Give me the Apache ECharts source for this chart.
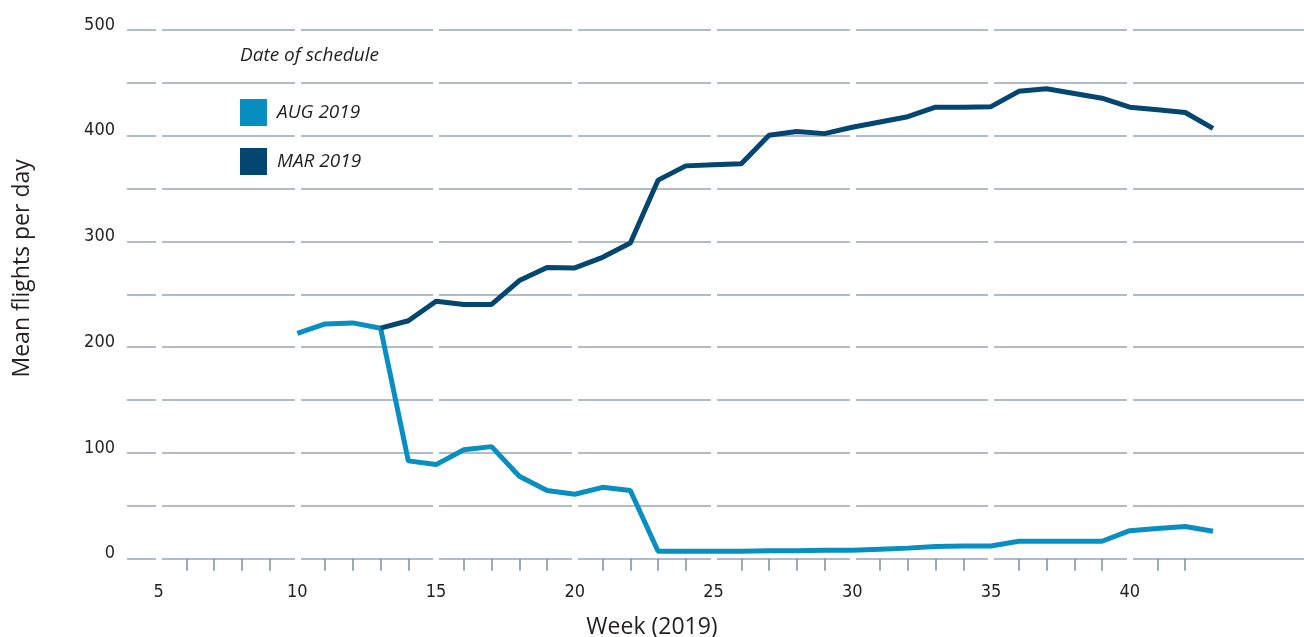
<!DOCTYPE html>
<html>
<head>
<meta charset="utf-8">
<script src="https://cdn.jsdelivr.net/npm/echarts@6/dist/echarts.min.js"></script>
<style>
  html, body { margin: 0; padding: 0; background: #fff; }
  #chart { width: 1304px; height: 637px; }
</style>
</head>
<body>
<div id="chart"></div>
<script>
const augWeeks = [10, 11, 12, 13, 14, 15, 16, 17, 18, 19, 20, 21, 22, 23, 24, 25, 26, 27, 28, 29, 30, 31, 32, 33, 34, 35, 36, 37, 38, 39, 40, 41, 42, 43]
const augValues = [213, 222, 223, 218, 92.5, 89, 103, 106, 78, 64.5, 61, 67.5, 64.5, 7, 7, 7, 7, 7.5, 7.5, 8, 8, 9, 10, 11.5, 12, 12, 16.5, 16.5, 16.5, 16.5, 26.5, 28.5, 30.5, 26]

const marWeeks = [13, 14, 15, 16, 17, 18, 19, 20, 21, 22, 23, 24, 25, 26, 27, 28, 29, 30, 31, 32, 33, 34, 35, 36, 37, 38, 39, 40, 41, 42, 43]
const marValues = [218, 225, 243.5, 240.5, 240.5, 263, 275.5, 275, 285, 298.5, 358, 371.5, 372.5, 373.5, 400.5, 404, 402, 408, 413, 418, 427, 427, 427.5, 442, 444.5, 440, 435.5, 427, 424.5, 422, 407]

const xLabelWeeks = [5, 10, 15, 20, 25, 30, 35, 40]
const xMinorWeeks = [6, 7, 8, 9, 11, 12, 13, 14, 16, 17, 18, 19, 21, 22, 23, 24, 26, 27, 28, 29, 31, 32, 33, 34, 36, 37, 38, 39, 41, 42]
const yLabels = [0, 100, 200, 300, 400, 500]

const xMin = 3.86
const xMax = 46.28

const augColor = '#078fc1'
const marColor = '#03466f'
const gridColor = '#98a3bb'
const cutColor = '#ffffff'
const textColor = '#231f20'
const tickFont = "'Liberation Sans Narrow', 'DejaVu Sans Condensed', sans-serif"
const mainFont = "'Open Sans', sans-serif"

function toPairs(weeks, values) {
  return weeks.map((w, i) => [w, values[i]])
}

let myChart = echarts.init(document.getElementById('chart'))

myChart.setOption({
  animation: false,
  title: {
    text: 'Date of schedule',
    left: 240,
    top: 46,
    padding: 0,
    textStyle: { fontFamily: mainFont, fontStyle: 'italic', fontWeight: 'normal', fontSize: 19, color: textColor }
  },
  legend: {
    orient: 'vertical',
    left: 240,
    top: 99,
    padding: 0,
    itemWidth: 27,
    itemHeight: 27,
    itemGap: 22,
    icon: 'rect',
    data: ['AUG 2019', 'MAR 2019'],
    textStyle: { fontFamily: mainFont, fontStyle: 'italic', fontSize: 19, color: textColor, padding: [0, 0, 0, 5] }
  },
  grid: { left: 127, right: 0, top: 30, bottom: 78.3, outerBoundsMode: 'none' },
  xAxis: {
    type: 'value',
    min: xMin,
    max: xMax,
    name: 'Week (2019)',
    nameLocation: 'middle',
    nameGap: 57,
    nameTextStyle: { fontFamily: mainFont, fontSize: 23, color: textColor, padding: [0, 127, 0, 0] },
    axisLine: { show: false },
    axisTick: { show: true, customValues: xMinorWeeks, length: 12, lineStyle: { color: '#7f8d9c', width: 1.5 } },
    axisLabel: { customValues: xLabelWeeks, margin: 25, fontFamily: tickFont, fontSize: 18, color: textColor },
    splitLine: { show: false }
  },
  yAxis: {
    type: 'value',
    min: 0,
    max: 500,
    interval: 50,
    name: 'Mean flights per day',
    nameLocation: 'middle',
    nameGap: 93,
    nameTextStyle: { fontFamily: mainFont, fontSize: 23, color: textColor, padding: [0, 0, 0, 52] },
    axisLine: { show: false },
    axisTick: { show: false },
    axisLabel: {
      margin: 12,
      fontFamily: tickFont,
      fontSize: 18,
      color: textColor,
      verticalAlign: 'bottom',
      lineHeight: 10,
      formatter: v => (yLabels.indexOf(v) >= 0 ? String(v) : '')
    },
    splitLine: { show: true, lineStyle: { color: gridColor, width: 1.5 } }
  },
  series: [
    {
      name: 'AUG 2019',
      type: 'line',
      data: toPairs(augWeeks, augValues),
      showSymbol: false,
      color: augColor,
      lineStyle: { width: 5, color: augColor },
      itemStyle: { color: augColor },
      z: 3,
      // white breaks in the grid lines at every labelled week
      markLine: {
        z: 1,
        silent: true,
        symbol: 'none',
        label: { show: false },
        lineStyle: { color: cutColor, width: 6, type: 'solid', cap: 'square' },
        emphasis: { disabled: true },
        data: xLabelWeeks.map(w => ({ xAxis: w }))
      }
    },
    {
      name: 'MAR 2019',
      type: 'line',
      data: toPairs(marWeeks, marValues),
      showSymbol: false,
      color: marColor,
      lineStyle: { width: 5, color: marColor },
      itemStyle: { color: marColor },
      z: 3
    }
  ]
})
</script>
</body>
</html>
